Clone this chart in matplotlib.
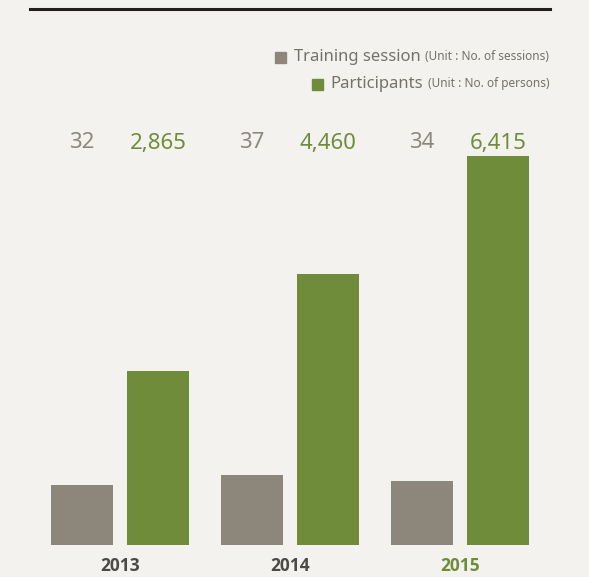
import matplotlib
matplotlib.use("Agg")
import matplotlib.pyplot as plt
import matplotlib.transforms as mtrans
import numpy as np

years = ["2013", "2014", "2015"]
sessions = [32, 37, 34]
participants = [2865, 4460, 6415]
session_labels = ["32", "37", "34"]
participant_labels = ["2,865", "4,460", "6,415"]

BG = "#f3f2ee"
GRAY = "#8c877a"
GREEN = "#6f8c3b"
GRAY_TXT = "#8d887e"
GREEN_TXT = "#6f8c3b"
YEAR_TXT = "#4b4a48"
LEG_TXT = "#75716b"
FONT = "Noto Sans"

W, H = 589, 577
fig = plt.figure(figsize=(W / 100, H / 100), dpi=100, facecolor=BG)

base_px = 32  # baseline from bottom
ax = fig.add_axes([0, base_px / H, 1, 1 - base_px / H])
ax.set_facecolor(BG)
ax2 = ax.twinx()
ax2.set_facecolor("none")

x = np.arange(len(years))
bw = 0.36
off = 0.224
ax.bar(x - off, sessions, width=bw, color=GRAY, zorder=2)
ax2.bar(x + off, participants, width=bw, color=GREEN, zorder=2)

ax.set_xlim(-120 / 170, (W - 120) / 170)
ax.set_ylim(0, 545 / 1.881)
ax2.set_ylim(0, 545 / 0.0607)
for a in (ax, ax2):
    a.axis("off")

# value labels
trans = mtrans.blended_transform_factory(ax.transData, fig.transFigure)
ylab = 1 - 143 / H
for i in range(len(years)):
    ax.text(x[i] - off, ylab, session_labels[i], transform=trans, ha="center", va="center",
            fontsize=16, color=GRAY_TXT, family=FONT)
    ax.text(x[i] + off, ylab, participant_labels[i], transform=trans, ha="center", va="center",
            fontsize=16, color=GREEN_TXT, family=FONT)
    ax.text(x[i], 1 - 566 / H, years[i], transform=trans, ha="center", va="center",
            fontsize=12.5, color=(GREEN_TXT if i == len(years) - 1 else YEAR_TXT),
            family="Open Sans", fontweight="bold")

# top rule
fig.add_artist(plt.Line2D([30 / W, 550 / W], [1 - 9 / H, 1 - 9 / H], color="#231f1e",
                          lw=2.2, transform=fig.transFigure))

# legend
renderer = fig.canvas.get_renderer()
legend_items = [("Training session", "(Unit : No. of sessions)", GRAY, 57),
                ("Participants", "(Unit : No. of persons)", GREEN, 84)]
for main, unit, col, ypx in legend_items:
    yf = 1 - ypx / H
    t_unit = fig.text(549 / W, yf, unit, ha="right", va="center", fontsize=8.5,
                      color=LEG_TXT, family=FONT)
    bb = t_unit.get_window_extent(renderer)
    t_main = fig.text((bb.x0 - 4) / W, yf, main, ha="right", va="center", fontsize=12,
                      color=LEG_TXT, family=FONT)
    bb2 = t_main.get_window_extent(renderer)
    sq = plt.Rectangle(((bb2.x0 - 19) / W, yf - 5.5 / H), 11 / W, 11 / H, color=col,
                       transform=fig.transFigure)
    fig.add_artist(sq)

fig.savefig("out.png", dpi=100, facecolor=BG)
